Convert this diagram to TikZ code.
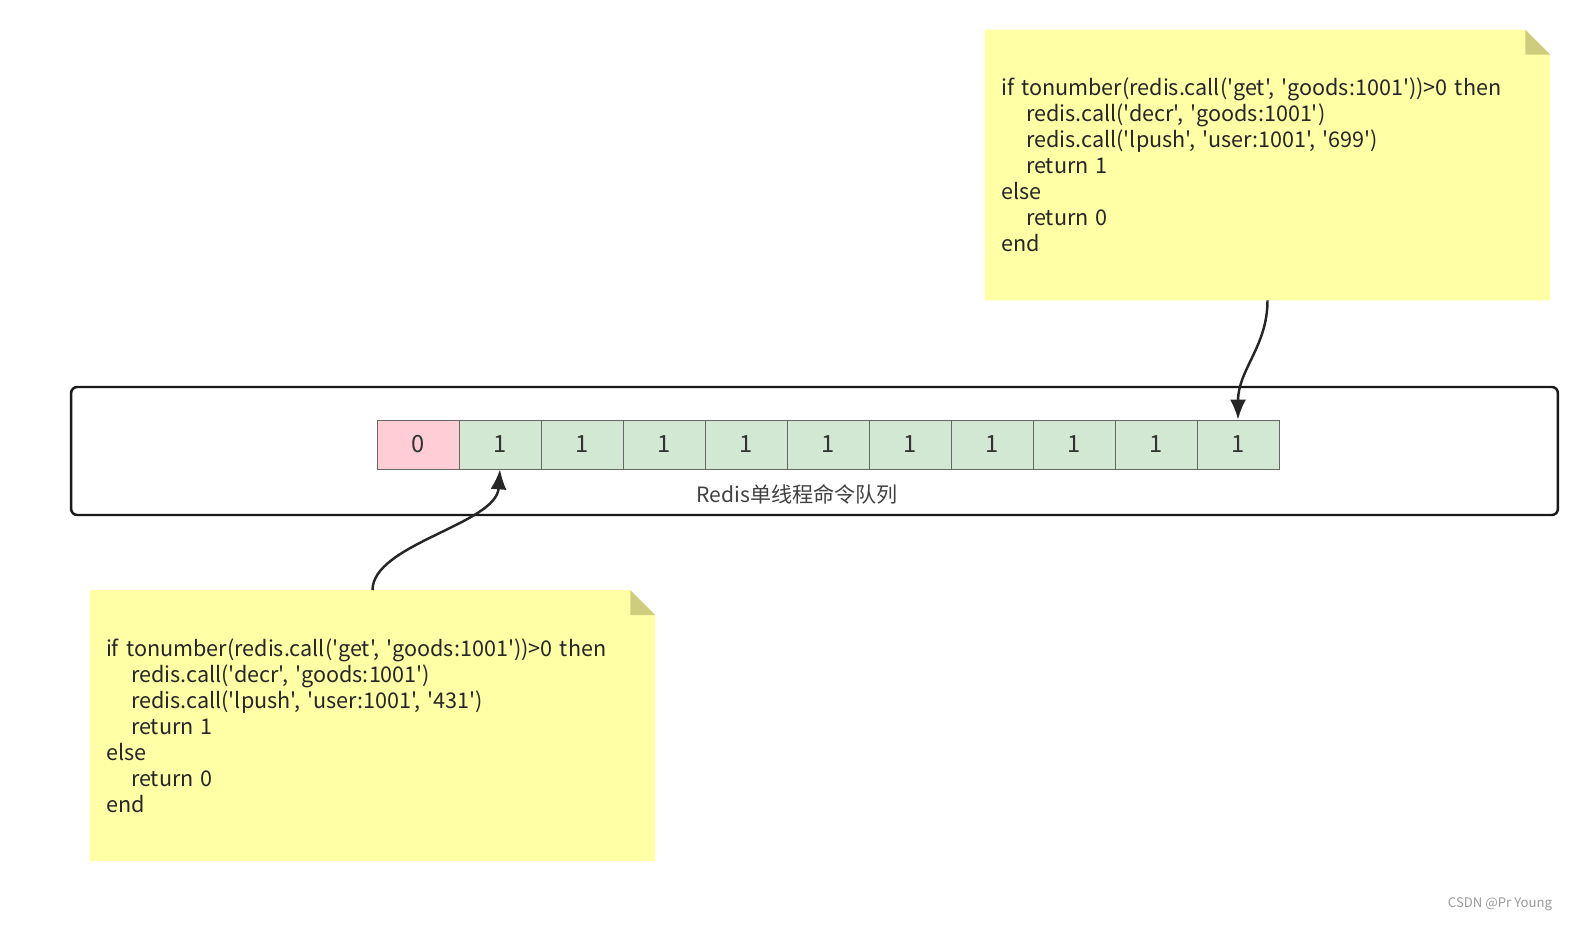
\documentclass[tikz,border=0pt]{standalone}
\usepackage{fontspec}
\setmainfont{Noto Sans CJK SC}[Ligatures=TeXOff]
\usetikzlibrary{arrows.meta, calc, backgrounds}
\definecolor{redisyellow}{HTML}{FFFFA6}
\definecolor{redisfold}{HTML}{CDCD7D}
\definecolor{redispink}{HTML}{FFCDD6}
\definecolor{redisgreen}{HTML}{D3E8D2}

\begin{document}
\begin{tikzpicture}[x=0.02cm,y=-0.02cm,font=\fontsize{12.3}{14.8}\selectfont,
    note/.style={text width=10.66cm,minimum height=5.4cm,inner xsep=0.32cm,inner ysep=0pt,align=left,text=black!85},
    cell/.style={draw=black!60,fill=redisgreen,minimum width=1.64cm,minimum height=0.98cm,inner sep=0pt,font=\fontsize{13.5}{15}\selectfont,text=black!80},
    flow/.style={-{Latex[length=4mm,width=3.2mm]},line width=1.4pt,black!85}]
  \useasboundingbox (0,0) rectangle (1574,925);

  % the queue
  \node[draw=black!90,line width=1.4pt,rounded corners=0.12cm,minimum width=29.74cm,minimum height=2.56cm] (queue) at (814.5,451) {};
  \node[cell,fill=redispink] (c0) at (418,444.5) {0};
  \foreach \i in {1,...,10}
    \node[cell] (c\i) at ({418+82*\i},444.5) {1};
  \node[text=black!75,font=\fontsize{12}{14}\selectfont] (qlabel) at (797,494) {Redis单线程命令队列};

  % the two scripts
  \node[note] (topnote) at (1267.5,165) {if tonumber(redis.call('get', 'goods:1001'))>0 then\\
    \hspace*{0.5cm}redis.call('decr', 'goods:1001')\\
    \hspace*{0.5cm}redis.call('lpush', 'user:1001', '699')\\
    \hspace*{0.5cm}return 1\\
    else\\
    \hspace*{0.5cm}return 0\\
    end};
  \node[note] (lownote) at (372.5,725.5) {if tonumber(redis.call('get', 'goods:1001'))>0 then\\
    \hspace*{0.5cm}redis.call('decr', 'goods:1001')\\
    \hspace*{0.5cm}redis.call('lpush', 'user:1001', '431')\\
    \hspace*{0.5cm}return 1\\
    else\\
    \hspace*{0.5cm}return 0\\
    end};
  \begin{scope}[on background layer]
    \foreach \n in {topnote,lownote} {
      \fill[redisyellow] (\n.north west) -- ($(\n.north east)+(-25,0)$) -- ($(\n.north east)+(0,25)$)
        -- (\n.south east) -- (\n.south west) -- cycle;
      \fill[redisfold] ($(\n.north east)+(-25,0)$) -- ($(\n.north east)+(-25,25)$) -- ($(\n.north east)+(0,25)$) -- cycle;
    }
  \end{scope}

  \draw[flow] (lownote.north) .. controls ($(lownote.north)+(0,-46)$) and ($(c1.south)+(-4,55)$) .. (c1.south);
  \draw[flow] (topnote.south) .. controls ($(topnote.south)+(0,46)$) and ($(c10.north)+(0,-50)$) .. (c10.north);

  \node[text=black!40,font=\fontsize{7.5}{9}\selectfont] (mark) at (1500,904) {CSDN @Pr Young};
\end{tikzpicture}
\end{document}
